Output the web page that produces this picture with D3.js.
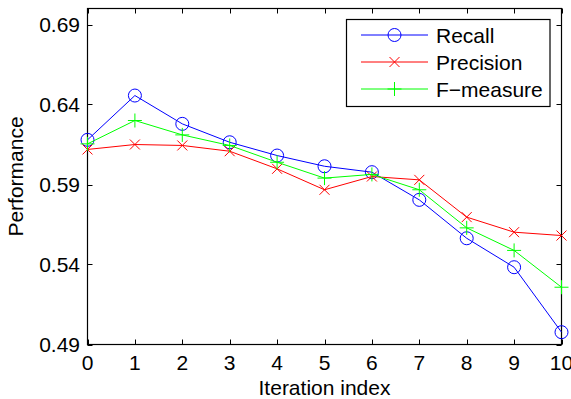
<!DOCTYPE html>
<html>
<head>
<meta charset="utf-8">
<script src="https://cdn.jsdelivr.net/npm/d3@7"></script>
<style>
    body { margin: 0; background: #fff; }
    svg text { font-family: "Liberation Sans", Arial, sans-serif; fill: #000; }
</style>
</head>
<body>
<svg id="chart" width="571" height="399"></svg>
<script>
// values
const iterations = [0, 1, 2, 3, 4, 5, 6, 7, 8, 9, 10];
const recall = [0.6179, 0.6456, 0.6279, 0.6164, 0.6081, 0.6014, 0.5977, 0.5804, 0.5564, 0.5383, 0.4977];
const precision = [0.6119, 0.6150, 0.6144, 0.6108, 0.5998, 0.5867, 0.5950, 0.5929, 0.5696, 0.5602, 0.5581];
const fmeasure = [0.6154, 0.6300, 0.6210, 0.6144, 0.6039, 0.5940, 0.5963, 0.5867, 0.5629, 0.5488, 0.5258];
const yTicks = [0.49, 0.54, 0.59, 0.64, 0.69];
const seriesNames = ["Recall", "Precision", "F\u2212measure"];

const series = [
    { name: seriesNames[0], values: recall, color: "#0000ff", marker: "circle" },
    { name: seriesNames[1], values: precision, color: "#ff0000", marker: "x" },
    { name: seriesNames[2], values: fmeasure, color: "#00ff00", marker: "plus" }
];

const svg = d3.select("#chart");
const axLeft = 87.5, axRight = 561.5, axTop = 8.5, axBottom = 344.5;
const fs = 21;

let x = d3.scaleLinear().domain([0, 10]).range([axLeft, axRight]);
let y = d3.scaleLinear().domain([0.49, 0.70]).range([axBottom, axTop]);

// ticks, inward like matlab, mirrored on top and right
let tickLen = 5;
let ticks = svg.append("g").attr("stroke", "#000").attr("stroke-width", 1);
iterations.forEach(function (d) {
    let px = Math.round(x(d)) + 0.5;
    ticks.append("line").attr("x1", px).attr("x2", px).attr("y1", axBottom).attr("y2", axBottom - tickLen);
    ticks.append("line").attr("x1", px).attr("x2", px).attr("y1", axTop).attr("y2", axTop + tickLen);
});
yTicks.forEach(function (d) {
    let py = Math.round(y(d)) + 0.5;
    ticks.append("line").attr("x1", axLeft).attr("x2", axLeft + tickLen).attr("y1", py).attr("y2", py);
    ticks.append("line").attr("x1", axRight).attr("x2", axRight - tickLen).attr("y1", py).attr("y2", py);
});

svg.append("rect")
    .attr("x", axLeft).attr("y", axTop)
    .attr("width", axRight - axLeft).attr("height", axBottom - axTop)
    .attr("fill", "none").attr("stroke", "#000").attr("stroke-width", 1.2);

svg.append("g")
    .selectAll("text")
    .data(iterations)
    .enter()
    .append("text")
    .attr("x", d => x(d))
    .attr("y", 370)
    .attr("text-anchor", "middle")
    .style("font-size", fs + "px")
    .text(d => d);

svg.append("g")
    .selectAll("text")
    .data(yTicks)
    .enter()
    .append("text")
    .attr("x", 80)
    .attr("y", d => y(d))
    .attr("dy", "0.36em")
    .attr("text-anchor", "end")
    .style("font-size", fs + "px")
    .text(d => d3.format(".2f")(d));

svg.append("text")
    .attr("x", (axLeft + axRight) / 2)
    .attr("y", 395)
    .attr("text-anchor", "middle")
    .style("font-size", fs + "px")
    .text("Iteration index");

svg.append("text")
    .attr("transform", "translate(23," + ((axTop + axBottom) / 2) + ") rotate(-90)")
    .attr("text-anchor", "middle")
    .style("font-size", fs + "px")
    .text("Performance");

function drawMarker(g, type, color) {
    if (type === "circle") {
        g.append("circle").attr("r", 6.5).attr("fill", "none").attr("stroke", color).attr("stroke-width", 1);
    } else if (type === "x") {
        g.append("path").attr("d", "M-5,-5L5,5M-5,5L5,-5").attr("stroke", color).attr("stroke-width", 1);
    } else {
        g.append("path").attr("d", "M-7,0L7,0M0,-7L0,7").attr("stroke", color).attr("stroke-width", 1);
    }
}

let line = d3.line()
    .x((d, i) => x(iterations[i]))
    .y(d => y(d));

series.forEach(function (s) {
    let g = svg.append("g");
    g.append("path")
        .attr("d", line(s.values))
        .attr("fill", "none")
        .attr("stroke", s.color)
        .attr("stroke-width", 1);
    g.selectAll(".mk")
        .data(s.values)
        .enter()
        .append("g")
        .attr("class", "mk")
        .attr("transform", (d, i) => "translate(" + x(iterations[i]) + "," + y(d) + ")")
        .each(function () { drawMarker(d3.select(this), s.marker, s.color); });
});

// legend
let legend = svg.append("g");
legend.append("rect")
    .attr("x", 346.5).attr("y", 19.5)
    .attr("width", 203.5).attr("height", 87)
    .attr("fill", "#fff").attr("stroke", "#000").attr("stroke-width", 1.2);
series.forEach(function (s, i) {
    let ly = 35 + i * 27;
    legend.append("line")
        .attr("x1", 361).attr("x2", 428)
        .attr("y1", ly).attr("y2", ly)
        .attr("stroke", s.color).attr("stroke-width", 1);
    drawMarker(legend.append("g").attr("transform", "translate(394.5," + ly + ")"), s.marker, s.color);
    legend.append("text")
        .attr("x", 436)
        .attr("y", ly)
        .attr("dy", "0.36em")
        .style("font-size", fs + "px")
        .text(s.name);
});
</script>
</body>
</html>
